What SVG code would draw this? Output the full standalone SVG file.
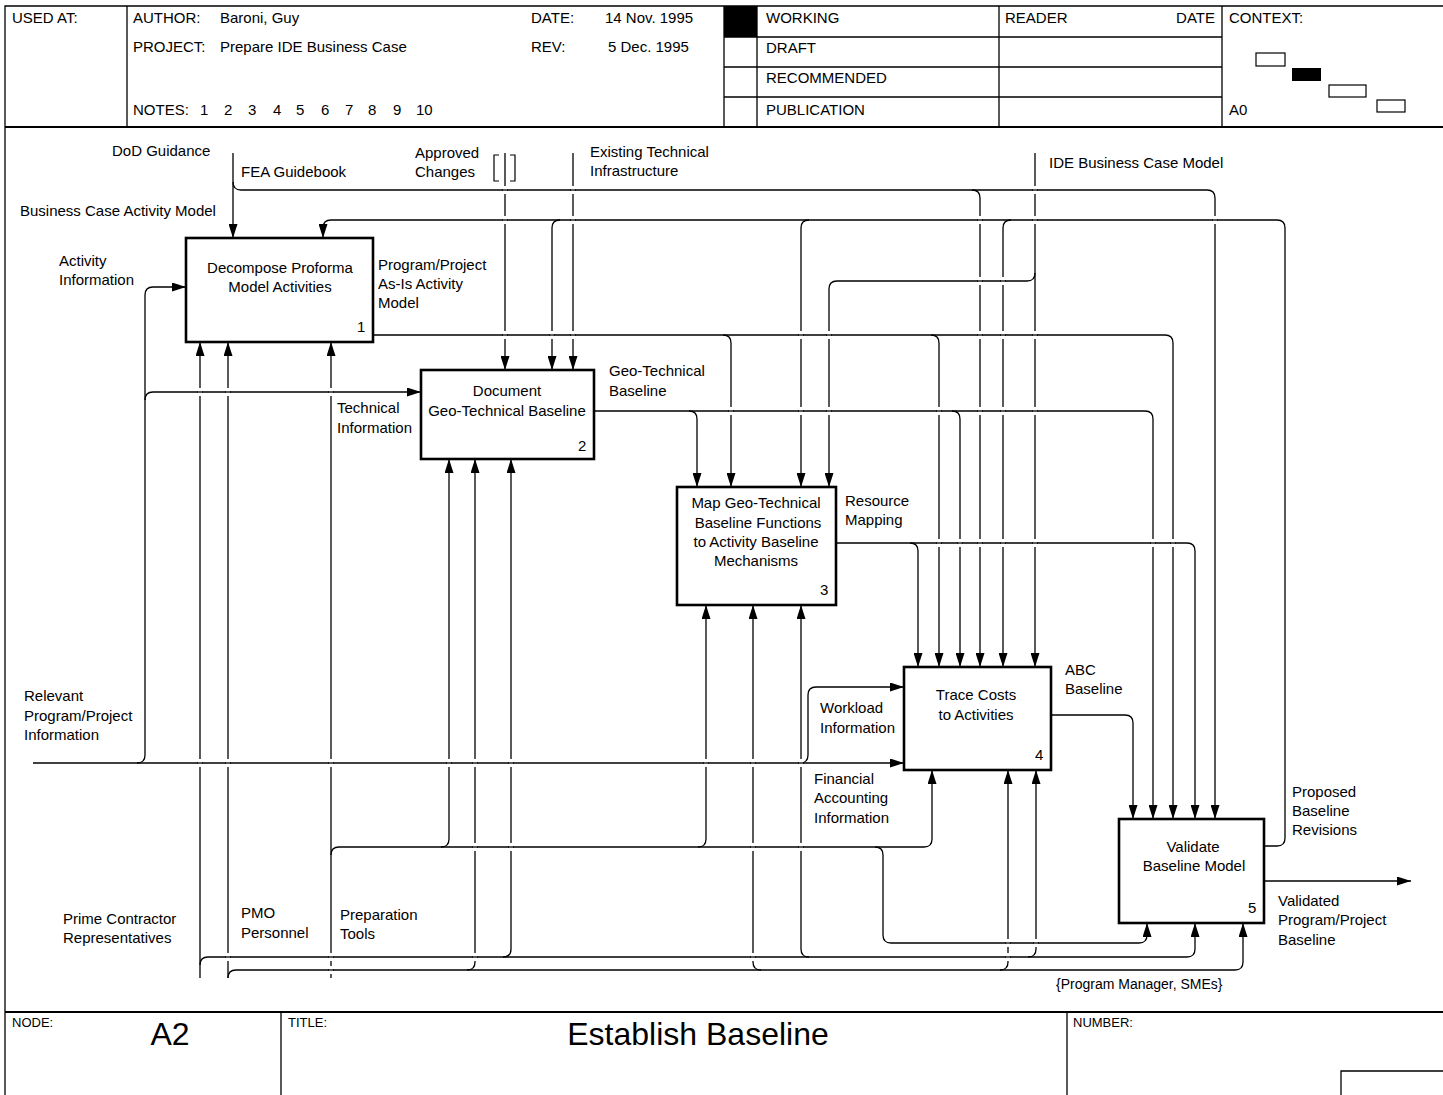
<svg xmlns="http://www.w3.org/2000/svg" width="1443" height="1095" viewBox="0 0 1443 1095">
<style>
text{font-family:"Liberation Sans",Arial,sans-serif;font-size:15px;fill:#000}
.c{text-anchor:middle}
.e{text-anchor:end}
.fr{fill:none;stroke:#000;stroke-width:1.3}
.fb{fill:none;stroke:#000;stroke-width:2.2}
.ln{fill:none;stroke:#000;stroke-width:1.3}
.ar{marker-end:url(#a)}
.bx{fill:#fff;stroke:#000;stroke-width:2.6}
.sm{font-size:13px}
.big{font-size:32px}
</style>
<defs>
<marker id="a" viewBox="0 0 14 9" refX="14" refY="4.5" markerWidth="14" markerHeight="9" orient="auto" markerUnits="userSpaceOnUse"><path d="M0,0 L14,4.5 L0,9 z" fill="#000"/></marker>
<g id="gap"><rect x="-2" y="-4" width="4" height="8" fill="#fff"/><path d="M-3,0 H3" stroke="#000" stroke-width="1.3"/></g>
</defs>
<rect width="1443" height="1095" fill="#fff"/>
<g id="frame">
<path class="fr" d="M1443,6 H5 V1095"/>
<path class="fb" d="M5,127 H1443 M5,1012 H1443"/>
<path class="fr" d="M127,6 V127 M724,6 V127 M757,6 V127 M999,6 V127 M1222,6 V127 M724,37 H1222 M724,67 H1222 M724,97 H1222"/>
<rect x="724" y="6" width="33" height="31" fill="#000"/>
<path class="fr" d="M281,1012 V1095 M1067,1012 V1095 M1341,1095 V1071 H1443"/>
<rect x="1256" y="53" width="29" height="13" fill="#fff" stroke="#000" stroke-width="1.2"/>
<rect x="1292" y="68" width="29" height="13" fill="#000"/>
<rect x="1329" y="85" width="37" height="12" fill="#fff" stroke="#000" stroke-width="1.2"/>
<rect x="1377" y="100" width="28" height="12" fill="#fff" stroke="#000" stroke-width="1.2"/>
</g>
<g id="header-text">
<text x="12" y="23">USED AT:</text>
<text x="133" y="23">AUTHOR:</text>
<text x="220" y="23">Baroni, Guy</text>
<text x="531" y="23">DATE:</text>
<text x="605" y="23">14 Nov. 1995</text>
<text x="133" y="52">PROJECT:</text>
<text x="220" y="52">Prepare IDE Business Case</text>
<text x="531" y="52">REV:</text>
<text x="608" y="52">5 Dec. 1995</text>
<text x="133" y="115">NOTES:<tspan x="200">1</tspan><tspan x="224">2</tspan><tspan x="248">3</tspan><tspan x="273">4</tspan><tspan x="296">5</tspan><tspan x="321">6</tspan><tspan x="345">7</tspan><tspan x="368">8</tspan><tspan x="393">9</tspan><tspan x="416">10</tspan></text>
<text x="766" y="23">WORKING</text>
<text x="766" y="53">DRAFT</text>
<text x="766" y="83">RECOMMENDED</text>
<text x="766" y="115">PUBLICATION</text>
<text x="1005" y="23">READER</text>
<text class="e" x="1215" y="23">DATE</text>
<text x="1229" y="23">CONTEXT:</text>
<text x="1229" y="115">A0</text>
</g>
<g id="footer-text">
<text class="sm" x="12" y="1027">NODE:</text>
<text class="c big" x="170" y="1045">A2</text>
<text class="sm" x="288" y="1027">TITLE:</text>
<text class="c big" x="698" y="1045">Establish Baseline</text>
<text class="sm" x="1073" y="1027">NUMBER:</text>
</g>
<g id="connectors">
<path class="ln ar" d="M233,153 V238"/>
<path class="ln ar" d="M233,182 Q233,190 241,190 H972 Q980,190 980,198 V667"/>
<path class="ln ar" d="M972,190 H1207 Q1215,190 1215,198 V819"/>
<path class="ln ar" d="M505,153 V370"/>
<path d="M499,155 h-5 v26 h5 M510,155 h5 v26 h-5" fill="none" stroke="#000" stroke-width="1.2"/>
<path class="ln ar" d="M573,153 V370"/>
<path class="ln ar" d="M1035,153 V667"/>
<path class="ln ar" d="M1035,273 Q1035,281 1027,281 H837 Q829,281 829,289 V487"/>
<path class="ln ar" d="M1264,846 H1277 Q1285,846 1285,838 V228 Q1285,220 1277,220 H331 Q323,220 323,228 V238"/>
<path class="ln ar" d="M1011,220 Q1003,220 1003,228 V667"/>
<path class="ln ar" d="M809,220 Q801,220 801,228 V487"/>
<path class="ln ar" d="M560,220 Q552,220 552,228 V370"/>
<path class="ln ar" d="M373,335 H723 Q731,335 731,343 V487"/>
<path class="ln ar" d="M723,335 H931 Q939,335 939,343 V667"/>
<path class="ln ar" d="M931,335 H1165 Q1173,335 1173,343 V819"/>
<path class="ln ar" d="M594,411 H689 Q697,411 697,419 V487"/>
<path class="ln ar" d="M689,411 H952 Q960,411 960,419 V667"/>
<path class="ln ar" d="M952,411 H1145 Q1153,411 1153,419 V819"/>
<path class="ln ar" d="M836,543 H910 Q918,543 918,551 V667"/>
<path class="ln ar" d="M910,543 H1187 Q1195,543 1195,551 V819"/>
<path class="ln ar" d="M1051,715 H1125 Q1133,715 1133,723 V819"/>
<path class="ln ar" d="M1264,881 H1411"/>
<path class="ln ar" d="M33,763 H904"/>
<path class="ln ar" d="M137,763 Q145,763 145,755 V400 Q145,392 153,392 H421"/>
<path class="ln ar" d="M145,400 V295 Q145,287 153,287 H186"/>
<path class="ln ar" d="M800,763 Q808,763 808,755 V695 Q808,687 816,687 H904"/>
<path class="ln ar" d="M200,978 V342"/>
<path class="ln ar" d="M200,965 Q200,957 208,957 H1187 Q1195,957 1195,949 V923"/>
<path class="ln ar" d="M503,957 Q511,957 511,949 V459"/>
<path class="ln ar" d="M809,957 Q801,957 801,949 V605"/>
<path class="ln ar" d="M1028,957 Q1036,957 1036,949 V770"/>
<path class="ln ar" d="M228,978 V342"/>
<path class="ln ar" d="M228,978 Q228,970 236,970 H1235 Q1243,970 1243,962 V923"/>
<path class="ln ar" d="M467,970 Q475,970 475,962 V459"/>
<path class="ln ar" d="M761,970 Q753,970 753,962 V605"/>
<path class="ln ar" d="M1000,970 Q1008,970 1008,962 V770"/>
<path class="ln ar" d="M331,978 V342"/>
<path class="ln ar" d="M331,855 Q331,847 339,847 H924 Q932,847 932,839 V770"/>
<path class="ln ar" d="M441,847 Q449,847 449,839 V459"/>
<path class="ln ar" d="M698,847 Q706,847 706,839 V605"/>
<path class="ln ar" d="M875,847 Q883,847 883,855 V935 Q883,943 891,943 H1139 Q1147,943 1147,935 V923"/>
</g>
<g id="crossings">
<use href="#gap" x="505" y="190"/><use href="#gap" x="573" y="190"/><use href="#gap" x="1035" y="190"/>
<use href="#gap" x="505" y="220"/><use href="#gap" x="573" y="220"/><use href="#gap" x="980" y="220"/><use href="#gap" x="1035" y="220"/><use href="#gap" x="1215" y="220"/>
<use href="#gap" x="980" y="281"/><use href="#gap" x="1003" y="281"/>
<use href="#gap" x="505" y="335"/><use href="#gap" x="552" y="335"/><use href="#gap" x="573" y="335"/><use href="#gap" x="801" y="335"/><use href="#gap" x="829" y="335"/><use href="#gap" x="980" y="335"/><use href="#gap" x="1003" y="335"/><use href="#gap" x="1035" y="335"/>
<use href="#gap" x="200" y="392"/><use href="#gap" x="228" y="392"/><use href="#gap" x="331" y="392"/>
<use href="#gap" x="731" y="411"/><use href="#gap" x="801" y="411"/><use href="#gap" x="829" y="411"/><use href="#gap" x="939" y="411"/><use href="#gap" x="980" y="411"/><use href="#gap" x="1003" y="411"/><use href="#gap" x="1035" y="411"/>
<use href="#gap" x="939" y="543"/><use href="#gap" x="960" y="543"/><use href="#gap" x="980" y="543"/><use href="#gap" x="1003" y="543"/><use href="#gap" x="1035" y="543"/><use href="#gap" x="1153" y="543"/><use href="#gap" x="1173" y="543"/>
<use href="#gap" x="200" y="763"/><use href="#gap" x="228" y="763"/><use href="#gap" x="331" y="763"/><use href="#gap" x="449" y="763"/><use href="#gap" x="475" y="763"/><use href="#gap" x="511" y="763"/><use href="#gap" x="706" y="763"/><use href="#gap" x="753" y="763"/><use href="#gap" x="801" y="763"/>
<use href="#gap" x="475" y="847"/><use href="#gap" x="511" y="847"/><use href="#gap" x="753" y="847"/><use href="#gap" x="801" y="847"/>
<use href="#gap" x="1008" y="943"/><use href="#gap" x="1036" y="943"/>
<use href="#gap" x="228" y="957"/><use href="#gap" x="331" y="957"/><use href="#gap" x="475" y="957"/><use href="#gap" x="753" y="957"/><use href="#gap" x="1008" y="957"/>
<use href="#gap" x="331" y="970"/>
</g>
<g id="labels">
<text x="112" y="156">DoD Guidance</text>
<text x="241" y="177">FEA Guidebook</text>
<text x="20" y="216">Business Case Activity Model</text>
<text x="415" y="158">Approved</text>
<text x="415" y="177">Changes</text>
<text x="590" y="157">Existing Technical</text>
<text x="590" y="176">Infrastructure</text>
<text x="1049" y="168">IDE Business Case Model</text>
<text x="59" y="266">Activity</text>
<text x="59" y="285">Information</text>
<text x="378" y="270">Program/Project</text>
<text x="378" y="289">As-Is Activity</text>
<text x="378" y="308">Model</text>
<text x="609" y="376">Geo-Technical</text>
<text x="609" y="396">Baseline</text>
<text x="337" y="413">Technical</text>
<text x="337" y="433">Information</text>
<text x="845" y="506">Resource</text>
<text x="845" y="525">Mapping</text>
<text x="1065" y="675">ABC</text>
<text x="1065" y="694">Baseline</text>
<text x="820" y="713">Workload</text>
<text x="820" y="733">Information</text>
<text x="24" y="701">Relevant</text>
<text x="24" y="721">Program/Project</text>
<text x="24" y="740">Information</text>
<text x="814" y="784">Financial</text>
<text x="814" y="803">Accounting</text>
<text x="814" y="823">Information</text>
<text x="1292" y="797">Proposed</text>
<text x="1292" y="816">Baseline</text>
<text x="1292" y="835">Revisions</text>
<text x="1278" y="906">Validated</text>
<text x="1278" y="925">Program/Project</text>
<text x="1278" y="945">Baseline</text>
<text x="63" y="924">Prime Contractor</text>
<text x="63" y="943">Representatives</text>
<text x="241" y="918">PMO</text>
<text x="241" y="938">Personnel</text>
<text x="340" y="920">Preparation</text>
<text x="340" y="939">Tools</text>
<text x="1056" y="989" style="font-size:14px">{Program Manager, SMEs}</text>
</g>
<g id="node1">
<rect class="bx" x="186" y="238" width="187" height="104"/>
<text class="c" x="280" y="273">Decompose Proforma</text>
<text class="c" x="280" y="292">Model Activities</text>
<text x="357" y="332">1</text>
</g>
<g id="node2">
<rect class="bx" x="421" y="370" width="173" height="89"/>
<text class="c" x="507" y="396">Document</text>
<text class="c" x="507" y="416">Geo-Technical Baseline</text>
<text x="578" y="451">2</text>
</g>
<g id="node3">
<rect class="bx" x="677" y="487" width="159" height="118"/>
<text class="c" x="756" y="508">Map Geo-Technical</text>
<text class="c" x="758" y="528">Baseline Functions</text>
<text class="c" x="756" y="547">to Activity Baseline</text>
<text class="c" x="756" y="566">Mechanisms</text>
<text x="820" y="595">3</text>
</g>
<g id="node4">
<rect class="bx" x="904" y="667" width="147" height="103"/>
<text class="c" x="976" y="700">Trace Costs</text>
<text class="c" x="976" y="720">to Activities</text>
<text x="1035" y="760">4</text>
</g>
<g id="node5">
<rect class="bx" x="1119" y="819" width="145" height="104"/>
<text class="c" x="1193" y="852">Validate</text>
<text class="c" x="1194" y="871">Baseline Model</text>
<text x="1248" y="913">5</text>
</g>
</svg>
